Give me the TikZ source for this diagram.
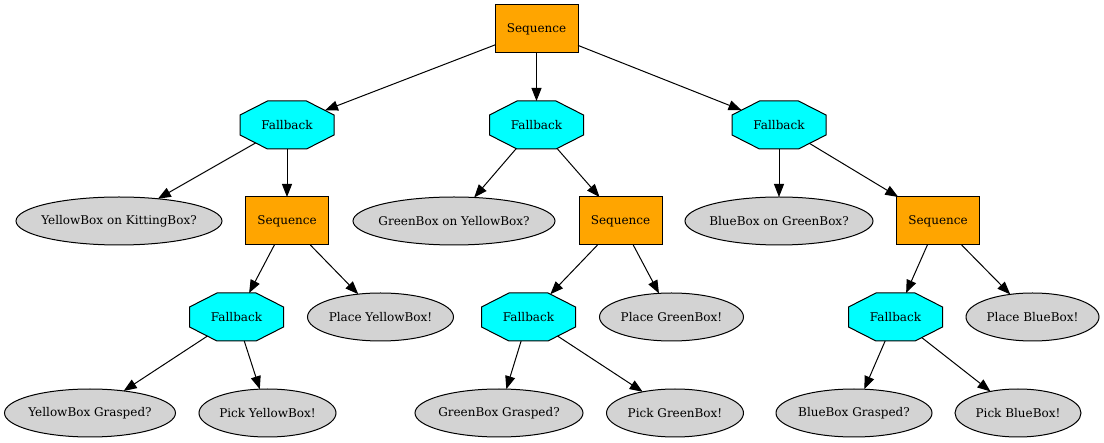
\documentclass[tikz,border=0pt]{standalone}
\usepackage{fontspec}
\setmainfont{DejaVu Serif}
\usetikzlibrary{shapes.geometric,arrows.meta}
\definecolor{seqorange}{HTML}{FFA500}
\definecolor{fbcyan}{HTML}{00FFFF}
\definecolor{condgray}{HTML}{D3D3D3}
\makeatletter
\def\gvcx{27.5}
\def\gvcy{14}
\pgfdeclareshape{gvoct}{
  \inheritsavedanchors[from=rectangle]
  \inheritanchor[from=rectangle]{center}
  \inheritanchor[from=rectangle]{text}
  \inheritanchor[from=rectangle]{base}
  \inheritanchor[from=rectangle]{north}
  \inheritanchor[from=rectangle]{south}
  \inheritanchor[from=rectangle]{east}
  \inheritanchor[from=rectangle]{west}
  \backgroundpath{
    \southwest \edef\gvL{\the\pgf@x}\edef\gvB{\the\pgf@y}
    \northeast \edef\gvR{\the\pgf@x}\edef\gvT{\the\pgf@y}
    \pgfpathmoveto{\pgfpoint{\gvL+\gvcx pt}{\gvT}}
    \pgfpathlineto{\pgfpoint{\gvR-\gvcx pt}{\gvT}}
    \pgfpathlineto{\pgfpoint{\gvR}{\gvT-\gvcy pt}}
    \pgfpathlineto{\pgfpoint{\gvR}{\gvB+\gvcy pt}}
    \pgfpathlineto{\pgfpoint{\gvR-\gvcx pt}{\gvB}}
    \pgfpathlineto{\pgfpoint{\gvL+\gvcx pt}{\gvB}}
    \pgfpathlineto{\pgfpoint{\gvL}{\gvB+\gvcy pt}}
    \pgfpathlineto{\pgfpoint{\gvL}{\gvT-\gvcy pt}}
    \pgfpathclose
  }
  \anchorborder{
    \edef\gvdx{\the\pgf@x}\edef\gvdy{\the\pgf@y}
    \southwest \edef\gvL{\the\pgf@x}\edef\gvB{\the\pgf@y}
    \northeast \edef\gvR{\the\pgf@x}\edef\gvT{\the\pgf@y}
    \pgfmathsetmacro\gvA{(\gvR-\gvL)/2}
    \pgfmathsetmacro\gvH{(\gvT-\gvB)/2}
    \pgfmathsetmacro\gvu{max(abs(\gvdx),0.01)}
    \pgfmathsetmacro\gvv{max(abs(\gvdy),0.01)}
    \pgfmathsetmacro\gvk{\gvA/\gvcx + \gvH/\gvcy - 1}
    \pgfmathsetmacro\gvt{min(\gvA/\gvu, \gvH/\gvv, \gvk/(\gvu/\gvcx + \gvv/\gvcy))}
    \pgfpoint{(\gvL+\gvR)/2 + \gvt*(\gvdx)}{(\gvB+\gvT)/2 + \gvt*(\gvdy)}
  }
}
\makeatother
\newcommand\zw[1]{\makebox[0pt]{#1}}
\tikzset{
  base/.style={draw=black, line width=1pt, inner sep=0pt, outer sep=0pt, font=\fontsize{12}{14}\selectfont, minimum height=48pt},
  seqbox/.style={base, rectangle, fill=seqorange, minimum width=83pt},
  fbnode/.style={base, shape=gvoct, fill=fbcyan, minimum width=94pt},
  leaf/.style={base, ellipse, fill=condgray, minimum width=#1},
  edge/.style={draw=black, line width=1pt, -{Triangle[length=13pt,width=10pt]}}
}
\begin{document}
\begin{tikzpicture}[x=1pt,y=-1pt]
\useasboundingbox (0,0) rectangle (1104,443);
% row 0
\node[seqbox] (root) at (536.5,29) {Sequence};
% row 1
\node[fbnode] (fb1) at (287,125) {Fallback};
\node[fbnode] (fb2) at (536.5,125) {Fallback};
\node[fbnode] (fb3) at (779,125) {Fallback};
% row 2
\node[leaf=206pt] (c1) at (119,221) {\zw{YellowBox on KittingBox?}};
\node[seqbox] (s2) at (287,221) {Sequence};
\node[leaf=202pt] (c2) at (454,221) {\zw{GreenBox on YellowBox?}};
\node[seqbox] (s3) at (620.5,221) {Sequence};
\node[leaf=188pt] (c3) at (779,221) {\zw{BlueBox on GreenBox?}};
\node[seqbox] (s4) at (938,221) {Sequence};
% row 3
\node[fbnode] (fb4) at (236.5,317) {Fallback};
\node[leaf=146pt] (p1) at (380.5,317) {\zw{Place YellowBox!}};
\node[fbnode] (fb5) at (528.5,317) {Fallback};
\node[leaf=144pt] (p2) at (671.5,317) {\zw{Place GreenBox!}};
\node[fbnode] (fb6) at (895.5,317) {Fallback};
\node[leaf=133pt] (p3) at (1032.5,317) {\zw{Place BlueBox!}};
% row 4
\node[leaf=171pt] (g1) at (90,413) {\zw{YellowBox Grasped?}};
\node[leaf=137pt] (k1) at (267.5,413) {\zw{Pick YellowBox!}};
\node[leaf=168pt] (g2) at (499,413) {\zw{GreenBox Grasped?}};
\node[leaf=137pt] (k2) at (675,413) {\zw{Pick GreenBox!}};
\node[leaf=156pt] (g3) at (854,413) {\zw{BlueBox Grasped?}};
\node[leaf=126pt] (k3) at (1018,413) {\zw{Pick BlueBox!}};
% edges
\draw[edge] (root) -- (fb1);
\draw[edge] (root) -- (fb2);
\draw[edge] (root) -- (fb3);
\draw[edge] (fb1) -- (c1);
\draw[edge] (fb1) -- (s2);
\draw[edge] (fb2) -- (c2);
\draw[edge] (fb2) -- (s3);
\draw[edge] (fb3) -- (c3);
\draw[edge] (fb3) -- (s4);
\draw[edge] (s2) -- (fb4);
\draw[edge] (s2) -- (p1);
\draw[edge] (s3) -- (fb5);
\draw[edge] (s3) -- (p2);
\draw[edge] (s4) -- (fb6);
\draw[edge] (s4) -- (p3);
\draw[edge] (fb4) -- (g1);
\draw[edge] (fb4) -- (k1);
\draw[edge] (fb5) -- (g2);
\draw[edge] (fb5) -- (k2);
\draw[edge] (fb6) -- (g3);
\draw[edge] (fb6) -- (k3);
\end{tikzpicture}
\end{document}
